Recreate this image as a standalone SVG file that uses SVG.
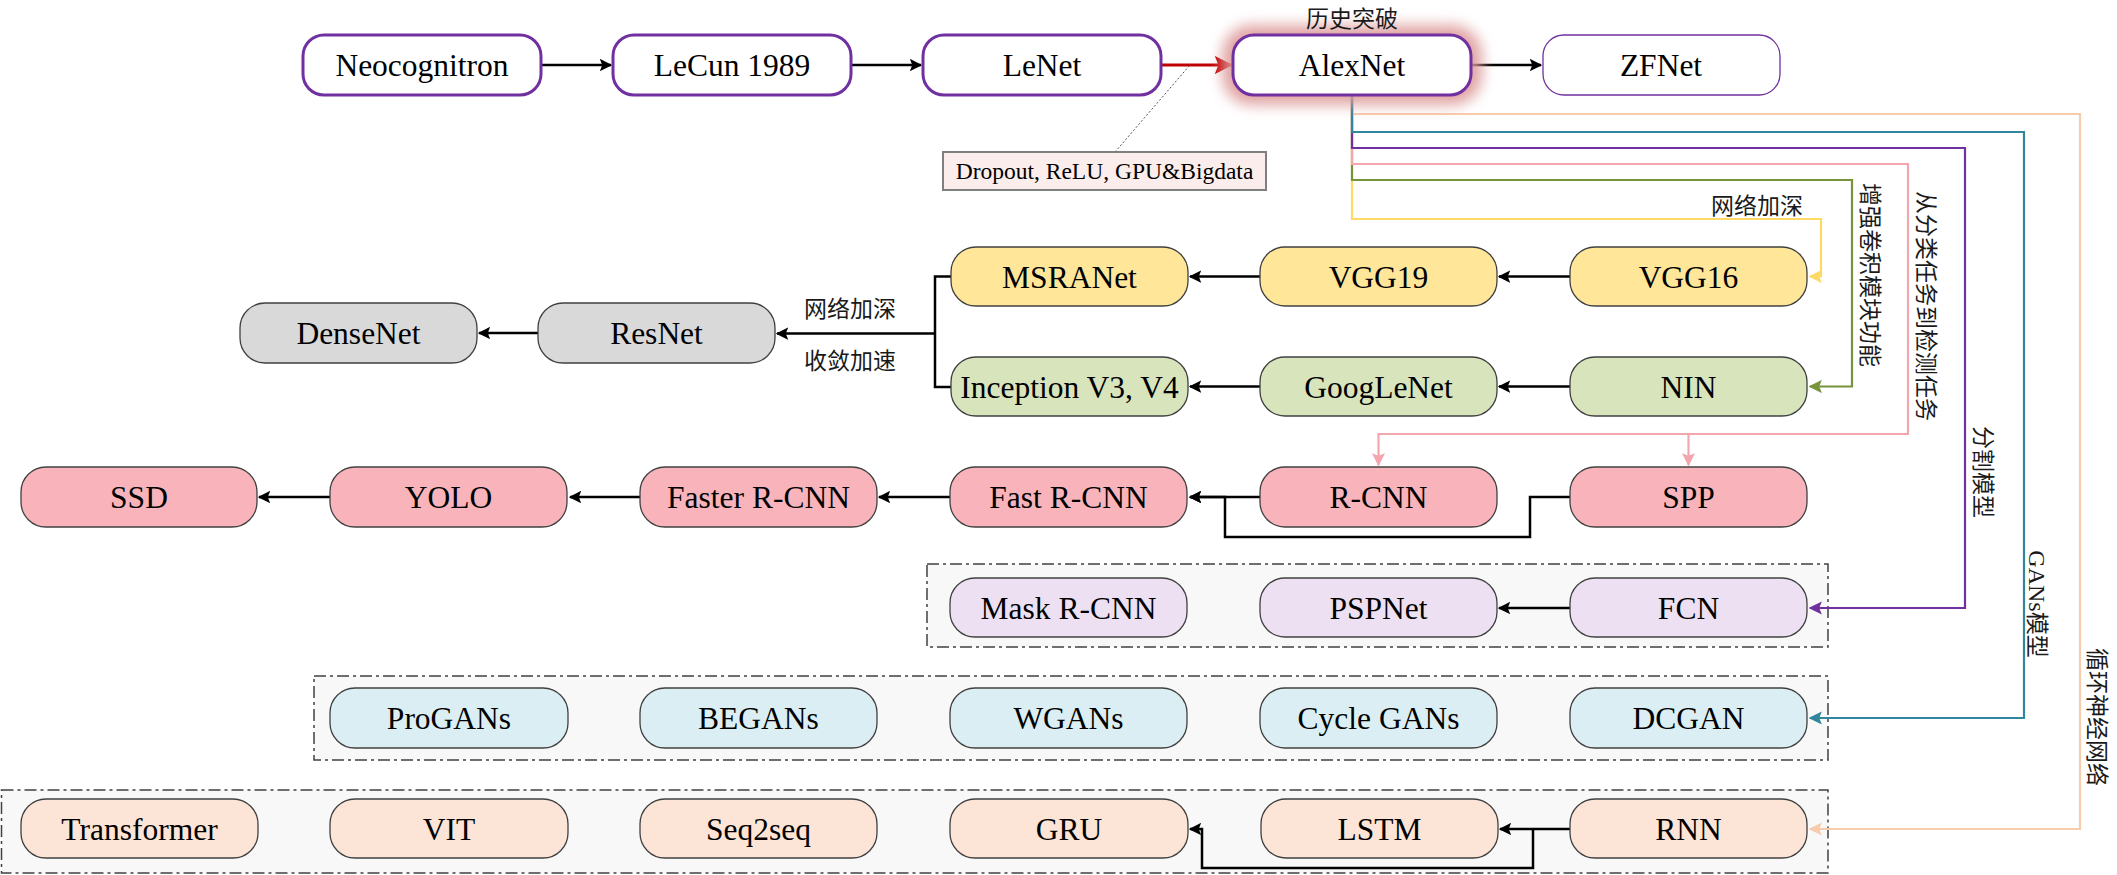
<svg xmlns="http://www.w3.org/2000/svg" width="2117" height="875" viewBox="0 0 2117 875">
<defs>
<style>
.t{font-family:"Liberation Serif","Times New Roman",serif;font-size:31.5px;fill:#000;text-anchor:middle}
.zh{font-family:"Noto Sans CJK SC","Noto Sans",sans-serif;font-size:23px;fill:#1a1a1a;text-anchor:middle}
.top{fill:#fff;stroke:#7030A0;stroke-width:3}
.n{stroke:#404040;stroke-width:1.3}
.y{fill:#FFE699}.g{fill:#D8E4BC}.gr{fill:#D9D9D9}.p{fill:#F8B4BA}.l{fill:#EDE0F2}.b{fill:#DBEEF3}.o{fill:#FCE4D6}
.box{fill:#F8F8F8;stroke:#404040;stroke-width:1.5;stroke-dasharray:12,4,3,4}
.k{fill:none;stroke:#000;stroke-width:2.5}
.c{fill:none;stroke-width:2.2}
</style>
<marker id="ak" viewBox="0 0 10 10" refX="9" refY="5" markerWidth="5" markerHeight="5" orient="auto" markerUnits="strokeWidth"><path d="M0,0L10,5L0,10L2,5z" fill="#000"/></marker>
<marker id="ar" viewBox="0 0 10 10" refX="9" refY="5" markerWidth="6" markerHeight="6" orient="auto" markerUnits="strokeWidth"><path d="M0,0L10,5L0,10L2,5z" fill="#C00000"/></marker>
<marker id="ay" viewBox="0 0 10 10" refX="9" refY="5" markerWidth="6" markerHeight="6" orient="auto" markerUnits="strokeWidth"><path d="M0,0L10,5L0,10L2,5z" fill="#FFD966"/></marker>
<marker id="ag" viewBox="0 0 10 10" refX="9" refY="5" markerWidth="6" markerHeight="6" orient="auto" markerUnits="strokeWidth"><path d="M0,0L10,5L0,10L2,5z" fill="#77933C"/></marker>
<marker id="ap" viewBox="0 0 10 10" refX="9" refY="5" markerWidth="6" markerHeight="6" orient="auto" markerUnits="strokeWidth"><path d="M0,0L10,5L0,10L2,5z" fill="#F4A6AE"/></marker>
<marker id="au" viewBox="0 0 10 10" refX="9" refY="5" markerWidth="6" markerHeight="6" orient="auto" markerUnits="strokeWidth"><path d="M0,0L10,5L0,10L2,5z" fill="#7030A0"/></marker>
<marker id="at" viewBox="0 0 10 10" refX="9" refY="5" markerWidth="6" markerHeight="6" orient="auto" markerUnits="strokeWidth"><path d="M0,0L10,5L0,10L2,5z" fill="#31859C"/></marker>
<marker id="ao" viewBox="0 0 10 10" refX="9" refY="5" markerWidth="6" markerHeight="6" orient="auto" markerUnits="strokeWidth"><path d="M0,0L10,5L0,10L2,5z" fill="#F8CBAD"/></marker>
<filter id="glow" x="-30%" y="-80%" width="160%" height="260%"><feGaussianBlur stdDeviation="7"/></filter>
</defs>

<!-- containers -->
<g id="container-seg"><rect class="box" x="927" y="564" width="901" height="83"/></g>
<g id="container-gan"><rect class="box" x="314" y="676" width="1514" height="84"/></g>
<g id="container-rnn"><rect class="box" x="1.5" y="790" width="1826.5" height="83"/></g>

<!-- connectors -->
<g id="connectors">
<path class="k" d="M541,65H611" marker-end="url(#ak)"/>
<path class="k" d="M851,65H921" marker-end="url(#ak)"/>
<path fill="none" stroke="#C00000" stroke-width="3" d="M1161,65H1231" marker-end="url(#ar)"/>
<path class="k" d="M1471,65H1541" marker-end="url(#ak)"/>
<path fill="none" stroke="#555" stroke-width="1" stroke-dasharray="2,2" d="M1115,152L1190,65"/>

<path class="c" stroke="#FFD966" d="M1352,95V219H1821V276.5H1810" marker-end="url(#ay)"/>
<path class="c" stroke="#77933C" d="M1352,95V180H1852V386.5H1810" marker-end="url(#ag)"/>
<path class="c" stroke="#F4A6AE" d="M1352,95V164H1908V434H1378.5V465" marker-end="url(#ap)"/>
<path class="c" stroke="#F4A6AE" d="M1688.5,434V465" marker-end="url(#ap)"/>
<path class="c" stroke="#7030A0" stroke-width="2.5" d="M1352,95V148H1965V608H1810" marker-end="url(#au)"/>
<path class="c" stroke="#F8CBAD" d="M1352,95V114H2080V829H1810" marker-end="url(#ao)"/>
<path class="c" stroke="#31859C" stroke-width="2.5" d="M1352,95V132H2024V718H1810" marker-end="url(#at)"/>

<path class="k" d="M1570,276.5H1499" marker-end="url(#ak)"/>
<path class="k" d="M1260,276.5H1190" marker-end="url(#ak)"/>
<path class="k" d="M1570,386.5H1499" marker-end="url(#ak)"/>
<path class="k" d="M1260,386.5H1190" marker-end="url(#ak)"/>
<path class="k" d="M951,276.5H935V387H951"/>
<path class="k" d="M935,333.5H777" marker-end="url(#ak)"/>
<path class="k" d="M538,333H479" marker-end="url(#ak)"/>

<path class="k" d="M1260,497H1190" marker-end="url(#ak)"/>
<path class="k" d="M1570,497H1530V537H1225V497H1190" marker-end="url(#ak)"/>
<path class="k" d="M950,497H879" marker-end="url(#ak)"/>
<path class="k" d="M640,497H570" marker-end="url(#ak)"/>
<path class="k" d="M330,497H259" marker-end="url(#ak)"/>
<path class="k" d="M1570,608H1499" marker-end="url(#ak)"/>
<path class="k" d="M1570,829H1500" marker-end="url(#ak)"/>
<path class="k" d="M1533,829V868H1202V829H1190" marker-end="url(#ak)"/>
</g>

<!-- top row -->
<g id="node-neocognitron"><rect class="top" x="303" y="35" width="238" height="60" rx="21"/><text class="t" x="422" y="76">Neocognitron</text></g>
<g id="node-lecun"><rect class="top" x="613" y="35" width="238" height="60" rx="21"/><text class="t" x="732" y="76">LeCun 1989</text></g>
<g id="node-lenet"><rect class="top" x="923" y="35" width="238" height="60" rx="21"/><text class="t" x="1042" y="76">LeNet</text></g>
<g id="node-alexnet">
<rect x="1222" y="25" width="260" height="80" rx="30" fill="#DE9A9A" opacity="0.9" filter="url(#glow)"/>
<rect class="top" x="1233" y="35" width="238" height="60" rx="21"/><text class="t" x="1352" y="76">AlexNet</text>
<text class="zh" x="1352" y="27">历史突破</text></g>
<g id="node-zfnet"><rect x="1543" y="35" width="237" height="60" rx="21" fill="#fff" stroke="#7030A0" stroke-width="1.3"/><text class="t" x="1661" y="76">ZFNet</text></g>
<g id="note-dropout"><rect x="943" y="152" width="323" height="38" fill="#FBEDEB" stroke="#7F7F7F" stroke-width="2"/><text class="t" style="font-size:23.5px" x="1104.5" y="179">Dropout, ReLU, GPU&amp;Bigdata</text></g>

<!-- VGG / Inception rows -->
<g id="node-vgg16"><rect class="n y" x="1570" y="247" width="237" height="59" rx="25"/><text class="t" x="1688.5" y="287.5">VGG16</text></g>
<g id="node-vgg19"><rect class="n y" x="1260" y="247" width="237" height="59" rx="25"/><text class="t" x="1378.5" y="287.5">VGG19</text></g>
<g id="node-msranet"><rect class="n y" x="951" y="247" width="237" height="59" rx="25"/><text class="t" x="1069.5" y="287.5">MSRANet</text></g>
<g id="node-nin"><rect class="n g" x="1570" y="357" width="237" height="59" rx="25"/><text class="t" x="1688.5" y="397.5">NIN</text></g>
<g id="node-googlenet"><rect class="n g" x="1260" y="357" width="237" height="59" rx="25"/><text class="t" x="1378.5" y="397.5">GoogLeNet</text></g>
<g id="node-inception"><rect class="n g" x="951" y="357" width="237" height="59" rx="25"/><text class="t" x="1069.5" y="397.5">Inception V3, V4</text></g>
<g id="node-resnet"><rect class="n gr" x="538" y="303" width="237" height="60" rx="25"/><text class="t" x="656.5" y="344">ResNet</text></g>
<g id="node-densenet"><rect class="n gr" x="240" y="303" width="237" height="60" rx="25"/><text class="t" x="358.5" y="344">DenseNet</text></g>

<!-- detection row -->
<g id="node-spp"><rect class="n p" x="1570" y="467" width="237" height="60" rx="25"/><text class="t" x="1688.5" y="508">SPP</text></g>
<g id="node-rcnn"><rect class="n p" x="1260" y="467" width="237" height="60" rx="25"/><text class="t" x="1378.5" y="508">R-CNN</text></g>
<g id="node-fastrcnn"><rect class="n p" x="950" y="467" width="237" height="60" rx="25"/><text class="t" x="1068.5" y="508">Fast R-CNN</text></g>
<g id="node-fasterrcnn"><rect class="n p" x="640" y="467" width="237" height="60" rx="25"/><text class="t" x="758.5" y="508">Faster R-CNN</text></g>
<g id="node-yolo"><rect class="n p" x="330" y="467" width="237" height="60" rx="25"/><text class="t" x="448.5" y="508">YOLO</text></g>
<g id="node-ssd"><rect class="n p" x="21" y="467" width="236" height="60" rx="25"/><text class="t" x="139" y="508">SSD</text></g>

<!-- segmentation row -->
<g id="node-fcn"><rect class="n l" x="1570" y="578" width="237" height="59" rx="25"/><text class="t" x="1688.5" y="618.5">FCN</text></g>
<g id="node-pspnet"><rect class="n l" x="1260" y="578" width="237" height="59" rx="25"/><text class="t" x="1378.5" y="618.5">PSPNet</text></g>
<g id="node-maskrcnn"><rect class="n l" x="950" y="578" width="237" height="59" rx="25"/><text class="t" x="1068.5" y="618.5">Mask R-CNN</text></g>

<!-- GAN row -->
<g id="node-dcgan"><rect class="n b" x="1570" y="688" width="237" height="60" rx="25"/><text class="t" x="1688.5" y="729">DCGAN</text></g>
<g id="node-cyclegans"><rect class="n b" x="1260" y="688" width="237" height="60" rx="25"/><text class="t" x="1378.5" y="729">Cycle GANs</text></g>
<g id="node-wgans"><rect class="n b" x="950" y="688" width="237" height="60" rx="25"/><text class="t" x="1068.5" y="729">WGANs</text></g>
<g id="node-begans"><rect class="n b" x="640" y="688" width="237" height="60" rx="25"/><text class="t" x="758.5" y="729">BEGANs</text></g>
<g id="node-progans"><rect class="n b" x="330" y="688" width="238" height="60" rx="25"/><text class="t" x="449" y="729">ProGANs</text></g>

<!-- RNN row -->
<g id="node-rnn"><rect class="n o" x="1570" y="799" width="237" height="59" rx="25"/><text class="t" x="1688.5" y="839.5">RNN</text></g>
<g id="node-lstm"><rect class="n o" x="1261" y="799" width="237" height="59" rx="25"/><text class="t" x="1379.5" y="839.5">LSTM</text></g>
<g id="node-gru"><rect class="n o" x="950" y="799" width="238" height="59" rx="25"/><text class="t" x="1069" y="839.5">GRU</text></g>
<g id="node-seq2seq"><rect class="n o" x="640" y="799" width="237" height="59" rx="25"/><text class="t" x="758.5" y="839.5">Seq2seq</text></g>
<g id="node-vit"><rect class="n o" x="330" y="799" width="238" height="59" rx="25"/><text class="t" x="449" y="839.5">VIT</text></g>
<g id="node-transformer"><rect class="n o" x="21" y="799" width="237" height="59" rx="25"/><text class="t" x="139.5" y="839.5">Transformer</text></g>

<!-- labels -->
<g id="labels">
<text class="zh" x="1757" y="214">网络加深</text>
<text class="zh" x="850" y="317">网络加深</text>
<text class="zh" x="850" y="369">收敛加速</text>
<text class="zh" transform="translate(1870,275) rotate(90)" y="8">增强卷积模块功能</text>
<text class="zh" transform="translate(1926,306) rotate(90)" y="8">从分类任务到检测任务</text>
<text class="zh" transform="translate(1983,472) rotate(90)" y="8">分割模型</text>
<text class="zh" transform="translate(2037,604) rotate(90)" y="8"><tspan style="font-family:'Liberation Serif',serif;font-size:24px">GANs</tspan>模型</text>
<text class="zh" transform="translate(2097,717) rotate(90)" y="8">循环神经网络</text>
</g>
</svg>
